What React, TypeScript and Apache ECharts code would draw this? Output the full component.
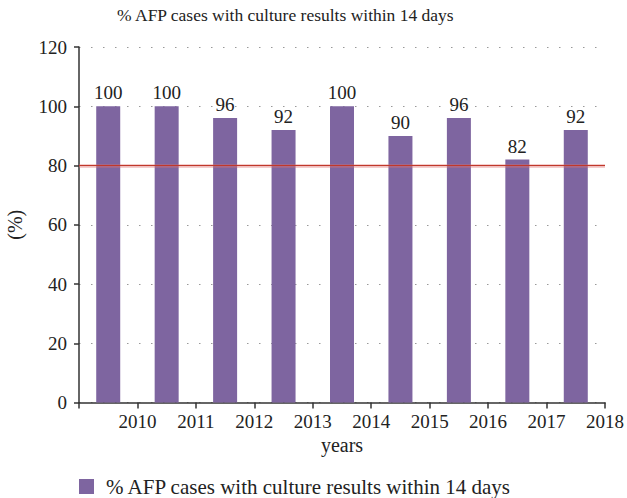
import React, { useEffect, useRef } from "react";
import * as echarts from "echarts";

const years = [2010, 2011, 2012, 2013, 2014, 2015, 2016, 2017, 2018];
const values = [100, 100, 96, 92, 100, 90, 96, 82, 92];
const target = 80;
const seriesName = "% AFP cases with culture results within 14 days";
const yTicks = [0, 20, 40, 60, 80, 100, 120];

export default function App() {
  const ref = useRef<HTMLDivElement>(null);
  useEffect(() => {
    const chart = echarts.init(ref.current!, null, { renderer: "svg" });
    const font = "'Liberation Serif', 'DejaVu Serif', serif";
    chart.setOption({
      animation: false,
      textStyle: { fontFamily: font },
      title: {
        text: seriesName,
        left: 117,
        top: 6,
        padding: 0,
        textStyle: { fontFamily: font, fontSize: 17.5, fontWeight: "normal", color: "#222" },
      },
      legend: {
        data: [seriesName],
        left: 79,
        top: 476,
        padding: 0,
        itemWidth: 15,
        itemHeight: 15,
        icon: "rect",
        textStyle: { fontFamily: font, fontSize: 21, color: "#222", padding: [0, 0, 0, 7] },
      },
      grid: { left: 79, right: 22, top: 47, bottom: 95.5, containLabel: false, outerBoundsMode: "none" },
      xAxis: {
        type: "value",
        min: years[0] - 1,
        max: years[years.length - 1],
        interval: 1,
        name: "years",
        nameLocation: "middle",
        nameGap: 22,
        nameTextStyle: { fontFamily: font, fontSize: 20, color: "#222" },
        axisLine: { lineStyle: { color: "#333", width: 1.5 } },
        axisTick: { show: true, length: 6, inside: false, lineStyle: { color: "#333", width: 1.5 } },
        axisLabel: {
          fontFamily: font,
          fontSize: 19,
          color: "#222",
          margin: 9,
          showMaxLabel: true,
          formatter: (v: number) => (years.includes(v) ? String(v) : ""),
        },
        splitLine: { show: false },
      },
      yAxis: {
        type: "value",
        min: yTicks[0],
        max: yTicks[yTicks.length - 1],
        interval: 20,
        name: "(%)",
        nameLocation: "middle",
        nameGap: 54,
        nameRotate: 90,
        nameTextStyle: { fontFamily: font, fontSize: 20, color: "#222" },
        axisLine: { show: true, lineStyle: { color: "#333", width: 1.5 } },
        axisTick: { show: true, length: 5, lineStyle: { color: "#333", width: 1.5 } },
        axisLabel: { fontFamily: font, fontSize: 19, color: "#222", margin: 12 },
        splitLine: {
          show: true,
          lineStyle: { color: "#999", width: 1.2, type: [1.5, 10.5] },
        },
      },
      series: [
        {
          name: seriesName,
          type: "bar",
          data: years.map((y, i) => [y - 0.5, values[i]]),
          barWidth: 24,
          itemStyle: { color: "#7E65A0" },
          label: {
            show: true,
            position: "top",
            distance: 4,
            fontFamily: font,
            fontSize: 19,
            color: "#222",
            formatter: (p: any) => String(p.value[1]),
          },
          markLine: {
            silent: true,
            symbol: "none",
            label: { show: false },
            data: [
              { yAxis: target, lineStyle: { color: "rgba(225,110,110,0.45)", width: 3.5, type: "solid" } },
              { yAxis: target, lineStyle: { color: "#C0392B", width: 1.2, type: "solid" } },
            ],
          },
        },
      ],
    });
    return () => chart.dispose();
  }, []);
  return <div ref={ref} style={{ position: "absolute", left: 0, top: 0, width: 627, height: 498 }} />;
}
